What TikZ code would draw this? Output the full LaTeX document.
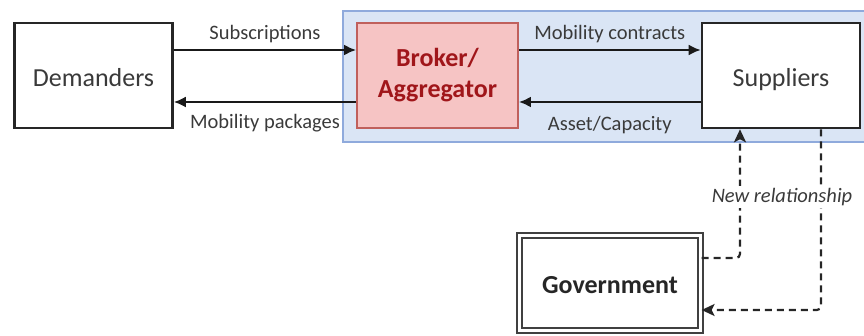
\documentclass[tikz,border=0pt]{standalone}
\usepackage{fontspec}
\setmainfont{Carlito}
\usetikzlibrary{arrows.meta}
\definecolor{txtgray}{HTML}{3A3A3A}
\definecolor{bluefill}{HTML}{DAE5F5}
\definecolor{blueline}{HTML}{8FAADC}
\definecolor{redfill}{HTML}{F6C4C4}
\definecolor{redline}{HTML}{C0605C}
\definecolor{redtext}{HTML}{A0161A}
\tikzset{
  mainbox/.style={draw=black!85, line width=2.6pt, fill=white, minimum width=158pt, minimum height=105pt,
    font=\fontsize{26}{31}\selectfont, text=txtgray, inner sep=0pt, text height=22pt, text depth=0pt},
  brokerbox/.style={draw=redline, line width=1.8pt, fill=redfill, minimum width=161pt, minimum height=105pt,
    font=\fontsize{26}{31}\selectfont\bfseries, text=redtext, align=center, inner sep=0pt},
  govbox/.style={draw=black!75, double, double distance=2.2pt, line width=2.2pt, minimum width=181pt, minimum height=95pt,
    font=\fontsize{26}{31}\selectfont\bfseries, text=black!85, inner sep=0pt, text height=21pt, text depth=0pt},
  flow/.style={draw=black!90, line width=2.2pt, -{Latex[length=12pt,width=11pt]}},
  dflow/.style={draw=black!85, line width=2.2pt, dash pattern=on 7pt off 5pt, rounded corners=4pt,
    -{Stealth[length=13pt,width=12pt,inset=3pt]}},
  lbl/.style={font=\fontsize{20.5}{24}\selectfont, text=txtgray, inner sep=1pt},
}
\begin{document}
\begin{tikzpicture}[x=1pt,y=-1pt]
\useasboundingbox (0,0) rectangle (864,336);
\fill[bluefill, draw=blueline, line width=2.4pt] (343,11) rectangle (870,142);
\node[mainbox] (dem) at (93.5,75.5) {Demanders};
\node[brokerbox] (bro) at (437.5,75.5) {Broker/\\Aggregator};
\node[mainbox] (sup) at (781,75.5) {Suppliers};
\node[govbox] (gov) at (610,283) {Government};
\draw[flow] ([yshift=25.5pt]dem.east) -- node[lbl, midway, yshift=16pt] {Subscriptions} ([yshift=25.5pt]bro.west);
\draw[flow] ([yshift=-26.5pt]bro.west) -- node[lbl, midway, yshift=-21pt] {Mobility packages} ([yshift=-26.5pt]dem.east);
\draw[flow] ([yshift=25.5pt]bro.east) -- node[lbl, midway, yshift=16pt] {Mobility contracts} ([yshift=25.5pt]sup.west);
\draw[flow] ([yshift=-26.5pt]sup.west) -- node[lbl, midway, yshift=-23pt] {Asset/Capacity} ([yshift=-26.5pt]bro.east);
\draw[dflow] ([yshift=25pt]gov.east) -| ([xshift=-41pt]sup.south);
\draw[dflow] ([xshift=40pt]sup.south) |- ([yshift=-27pt]gov.east);
\node[lbl, font=\fontsize{20.5}{24}\selectfont\itshape, fill=white, inner sep=2pt] (rel) at (782,197) {New relationship};
\end{tikzpicture}
\end{document}
